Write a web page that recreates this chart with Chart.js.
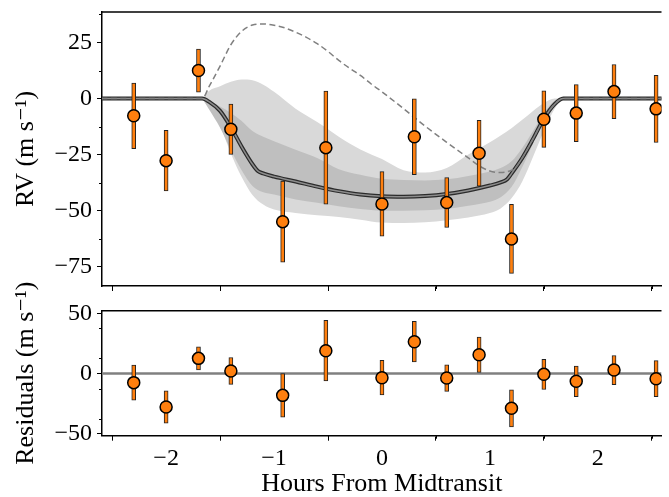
<!DOCTYPE html>
<html>
<head>
<meta charset="utf-8">
<script src="https://cdn.jsdelivr.net/npm/chart.js@4"></script>
<style>
  body { margin: 0; background: #fff; }
  #wrap { position: relative; width: 669px; height: 497px; overflow: hidden; }
  canvas { position: absolute; left: 0; }
  #chart-rv { top: 0; }
  #chart-res { top: 250px; }
</style>
</head>
<body>
<div id="wrap">
  <canvas id="chart-rv" width="669" height="300"></canvas>
  <canvas id="chart-res" width="669" height="247"></canvas>
</div>
<script>
// observations
const hours = [-2.3, -2.0, -1.7, -1.4, -0.92, -0.52, 0.0, 0.3, 0.6, 0.9, 1.2, 1.5, 1.8, 2.15, 2.54];
const rv = [-7.7, -27.7, 12.5, -13.7, -54.9, -21.9, -47.0, -17.0, -46.4, -24.4, -62.6, -9.2, -6.5, 3.1, -4.6];
const rvErr = [14.6, 13.5, 9.6, 11.2, 18.1, 25.2, 14.4, 16.9, 11.1, 14.7, 15.4, 12.6, 12.7, 12.1, 15.0];
const residuals = [-7.6, -27.9, 12.6, 2.1, -18.2, 19.0, -3.5, 26.5, -3.8, 15.6, -29.0, -0.7, -6.5, 2.9, -4.3];

// best-fit RM model
const modelHours = [-2.6, -1.666, -1.6, -1.5, -1.4, -1.3, -1.2, -1.15, -1.1, -1.0, -0.8, -0.6, -0.4, -0.2, 0.0, 0.2, 0.4, 0.6, 0.8, 1.0, 1.1, 1.16, 1.2, 1.3, 1.4, 1.5, 1.6, 1.68, 2.6];
const modelRv = [0, 0, -1.5, -5.5, -12.8, -21.5, -29.3, -32.3, -33.4, -34.8, -37.0, -39.3, -41.3, -42.8, -43.6, -43.8, -43.5, -42.6, -41.0, -38.8, -37.4, -36.0, -33.5, -26.5, -18.0, -9.0, -2.5, 0, 0];

// posterior envelopes
const bandHours = [-1.666, -1.6, -1.5, -1.4, -1.3, -1.2, -1.1, -1.0, -0.8, -0.6, -0.4, -0.2, 0.0, 0.2, 0.4, 0.6, 0.8, 1.0, 1.1, 1.2, 1.3, 1.4, 1.5, 1.6, 1.68];
const outerHi = [0, 3.5, 5.5, 7.5, 8.5, 8.2, 6.2, 3.0, -4.5, -10.5, -17.0, -22.7, -27.0, -32.0, -33.0, -31.0, -25.0, -19.5, -16.5, -13.3, -9.5, -5.5, -2.0, 0, 0];
const outerLo = [0, -4.0, -12.0, -24.5, -35.0, -43.0, -47.3, -49.5, -51.0, -52.0, -52.8, -54.0, -55.3, -55.5, -55.2, -54.3, -53.0, -51.0, -49.0, -44.5, -37.0, -26.0, -14.5, -4.5, 0];
const innerHi = [0, -1.0, -3.6, -6.5, -10.0, -14.5, -17.0, -19.0, -22.8, -26.5, -31.5, -34.0, -35.8, -36.3, -36.5, -36.0, -34.5, -32.5, -31.0, -28.0, -22.0, -14.5, -6.5, -1.0, 0];
const innerLo = [0, -5.0, -13.0, -23.0, -32.0, -39.0, -41.8, -42.8, -45.0, -46.5, -48.0, -49.3, -50.0, -50.0, -49.8, -49.3, -47.8, -46.0, -44.0, -39.5, -30.5, -20.0, -9.0, -2.5, 0];

// aligned-orbit model for comparison (dashed)
const altHours = [-2.6, -1.666, -1.6, -1.5, -1.4, -1.3, -1.2, -1.1, -1.0, -0.9, -0.8, -0.7, -0.6, -0.5, -0.4, -0.3, -0.2, -0.1, 0.0, 0.2, 0.4, 0.6, 0.8, 0.9, 1.0, 1.1, 1.2, 1.24, 1.3, 1.4, 1.5, 1.6, 1.68, 2.6];
const altRv = [0, 0, 5.5, 14.5, 24.0, 30.0, 32.8, 33.3, 32.7, 31.5, 29.6, 27.3, 24.5, 21.0, 17.0, 13.5, 10.3, 6.5, 3.0, -4.5, -12.3, -19.5, -26.5, -30.0, -32.3, -33.0, -32.0, -30.7, -26.5, -18.0, -9.0, -2.5, 0, 0];

// axes
const hourRange = [-2.594, 2.59];
const rvRange = [-83.6, 38.6];
const resRange = [-51.8, 52.3];
const hourTicks = [-2, -1, 0, 1, 2];
const hourMinor = [-2.5, -1.5, -0.5, 0.5, 1.5, 2.5];
const rvTicks = [-75, -50, -25, 0, 25];
const rvMinor = [-62.5, -37.5, -12.5, 12.5, 37.5];
const resTicks = [-50, -25, 0, 25, 50];
const resMinor = [-37.5, -12.5, 12.5, 37.5];

const serif = '"Liberation Serif", "DejaVu Serif", serif';
const orange = '#ff7f0e';
const pts = (xs, ys) => xs.map((x, i) => ({x: x, y: ys[i]}));
const minus = v => String(v).replace('-', '\u2212');

const frameAndMinor = {
  id: 'frameAndMinor',
  afterDraw(chart, args, opts) {
    const {ctx, chartArea: a} = chart;
    const x = chart.scales.x, y = chart.scales.y;
    ctx.save();
    ctx.strokeStyle = '#000';
    ctx.lineWidth = 1;
    ctx.beginPath();
    opts.xMinor.forEach(v => {
      const px = Math.round(x.getPixelForValue(v)) + 0.5;
      ctx.moveTo(px, a.bottom); ctx.lineTo(px, a.bottom + 3);
    });
    opts.yMinor.forEach(v => {
      const py = Math.round(y.getPixelForValue(v)) + 0.5;
      ctx.moveTo(a.left, py); ctx.lineTo(a.left - 3, py);
    });
    ctx.stroke();
    ctx.lineWidth = 1.5;
    ctx.beginPath();
    ctx.moveTo(a.left, a.top); ctx.lineTo(a.right, a.top);
    ctx.stroke();
    ctx.restore();
  }
};

const errorBars = (ys) => ({
  type: 'bar',
  data: hours.map((x, i) => ({x: x, y: [ys[i] - rvErr[i], ys[i] + rvErr[i]]})),
  backgroundColor: orange,
  borderColor: '#222',
  borderWidth: 1,
  borderSkipped: false,
  barThickness: 4,
  grouped: false,
  order: 2
});

const markers = (ys) => ({
  type: 'scatter',
  data: pts(hours, ys),
  pointRadius: 6,
  pointBackgroundColor: orange,
  pointBorderColor: '#000',
  pointBorderWidth: 1.5,
  order: 1
});

const xAxis = (labels, height) => ({
  type: 'linear',
  min: hourRange[0],
  max: hourRange[1],
  offset: false,
  afterBuildTicks: s => { s.ticks = hourTicks.map(v => ({value: v})); },
  afterFit: s => { s.height = height; s.paddingLeft = 0; s.paddingRight = 0; },
  grid: {drawOnChartArea: false, drawTicks: true, tickLength: 5, color: '#000', lineWidth: 1},
  border: {display: true, color: '#000', width: 1.5},
  ticks: {display: labels, padding: 4, color: '#000', font: {family: serif, size: 24}, callback: minus, maxRotation: 0}
});

const yAxis = (range, ticks, title) => ({
  min: range[0],
  max: range[1],
  afterBuildTicks: s => { s.ticks = ticks.map(v => ({value: v})); },
  afterFit: s => { s.width = 102; s.paddingTop = 0; s.paddingBottom = 0; },
  grid: {drawOnChartArea: false, drawTicks: true, tickLength: 5, color: '#000', lineWidth: 1},
  border: {display: true, color: '#000', width: 1.5},
  ticks: {padding: 5, color: '#000', font: {family: serif, size: 24}, callback: minus},
  title: {display: true, text: title, color: '#000', font: {family: serif, size: 26, lineHeight: 1}, padding: {top: 13}}
});

const line = (xs, ys, color, width, order, extra) => Object.assign({
  type: 'line',
  data: pts(xs, ys),
  borderColor: color,
  borderWidth: width,
  pointRadius: 0,
  cubicInterpolationMode: 'monotone',
  fill: false,
  order: order
}, extra || {});

new Chart(document.getElementById('chart-rv'), {
  data: {
    datasets: [
      line(bandHours, outerHi, 'rgba(0,0,0,0)', 0, 10, {fill: '+1', backgroundColor: '#d9d9d9'}),
      line(bandHours, outerLo, 'rgba(0,0,0,0)', 0, 10),
      line(bandHours, innerHi, 'rgba(0,0,0,0)', 0, 9, {fill: '+1', backgroundColor: '#bfbfbf'}),
      line(bandHours, innerLo, 'rgba(0,0,0,0)', 0, 9),
      line(modelHours, modelRv, '#2b2b2b', 4, 8),
      line(modelHours, modelRv, '#8c8c8c', 1.5, 7),
      line(altHours, altRv, '#808080', 1.5, 6, {borderDash: [6, 3.5]}),
      errorBars(rv),
      markers(rv)
    ]
  },
  options: {
    responsive: false,
    animation: false,
    layout: {padding: {top: 12, left: 0, right: 0, bottom: 0}},
    plugins: {legend: {display: false}, tooltip: {enabled: false},
      frameAndMinor: {xMinor: hourMinor, yMinor: rvMinor}},
    scales: {
      x: xAxis(false, 14),
      y: yAxis(rvRange, rvTicks, 'RV (m s\u207B\u00B9)')
    }
  },
  plugins: [frameAndMinor]
});

new Chart(document.getElementById('chart-res'), {
  data: {
    datasets: [
      line([hourRange[0], hourRange[1]], [0, 0], '#808080', 2.5, 5),
      errorBars(residuals),
      markers(residuals)
    ]
  },
  options: {
    responsive: false,
    animation: false,
    layout: {padding: {top: 60.7, left: 0, right: 0, bottom: 0}},
    plugins: {legend: {display: false}, tooltip: {enabled: false},
      frameAndMinor: {xMinor: hourMinor, yMinor: resMinor}},
    scales: {
      x: Object.assign(xAxis(true, 61.3), {
        title: {display: true, text: 'Hours From Midtransit', color: '#000', font: {family: serif, size: 26, lineHeight: 1}, padding: {bottom: 0}}
      }),
      y: yAxis(resRange, resTicks, 'Residuals (m s\u207B\u00B9)')
    }
  },
  plugins: [frameAndMinor]
});
</script>
</body>
</html>
